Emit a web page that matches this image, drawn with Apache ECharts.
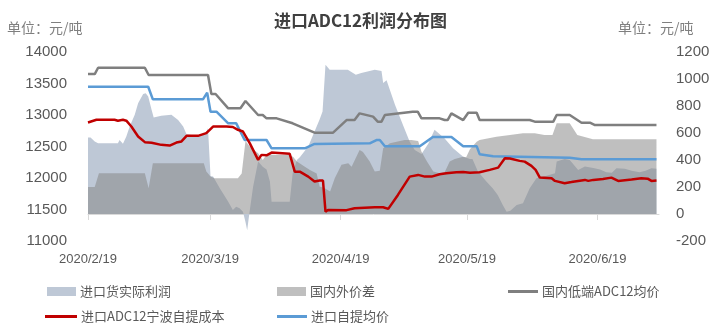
<!DOCTYPE html>
<html>
<head>
<meta charset="utf-8">
<script src="https://cdn.jsdelivr.net/npm/echarts@6/dist/echarts.min.js"></script>
<style>
html,body{margin:0;padding:0;background:#fff;}
#chart{width:721px;height:326px;}
</style>
</head>
<body>
<div id="chart"></div>
<script>
// x positions are day offsets from 2020/2/19
const tickDays = [0, 29, 60, 90, 121];
const tickLabels = ['2020/2/19', '2020/3/19', '2020/4/19', '2020/5/19', '2020/6/19'];

// 进口货实际利润 (right axis)
const profitDays = [0,0.6,1.6,2.4,7.1,7.5,8.3,9.1,9.9,11.1,11.9,13.1,13.7,14.3,15.1,15.6,17.4,19.8,21.4,22.6,23.4,24.6,27.3,28.1,28.5,29.1,29.7,31.3,33.3,34.4,35.2,36,36.8,37.4,37.8,38.3,39.2,40.4,41.5,42.4,43.2,43.6,47.9,48.6,49.6,50.3,52.3,55,55.7,56.4,57.4,61.7,63.6,64.9,68.1,69.7,70.1,70.9,72.9,74.8,76.4,77.6,79.2,80.8,82.3,82.7,84.7,86.7,89.1,90.7,91.3,92.6,94.6,96.1,97.3,98.5,99.4,100.3,101.8,103.3,104.9,106.5,108.5,110.9,111.3,113.2,114.4,116.4,118,120,121.6,123.1,124.4,125.5,127.5,129.1,131,132.4,133.8,135];
const profitVals = [566,566,537,525,525,549,520,574,648,735,821,888,895,870,772,715,727,735,697,648,591,586,586,611,635,280,277,190,91,30,54,42,17,-60,-120,0,200,388,350,330,240,91,91,300,400,420,500,700,760,1105,1068,1068,1031,1044,1068,1060,970,990,809,660,536,475,445,520,625,623,560,487,425,408,408,314,240,190,141,67,17,25,67,79,190,265,280,302,388,408,400,326,351,340,330,309,305,339,335,320,309,320,339,335];

// 国内外价差 (right axis)
const gapDays = [0,1.6,2.6,13.5,14.4,15.4,27.5,28.1,29.1,30,35.6,36.5,37.4,38.4,40.4,41.5,42.4,47.9,48.8,49.6,51.5,52.7,54.3,55,56.2,57.5,58.6,60.2,61.8,62.6,64.5,65.3,66.9,68.1,69.3,70.1,71.7,75.2,76.8,77.6,78.4,79.2,80.5,82,83.5,84.7,85.9,87.1,89.1,89.8,90.7,92.3,93,97,100.2,103.3,106.1,108.4,110.3,111.3,114.4,116.2,119.9,135];
const gapVals = [200,200,302,302,190,376,376,314,277,265,265,300,540,500,450,400,438,438,420,388,350,326,300,203,190,166,265,364,376,350,475,460,388,314,320,487,524,549,549,545,540,462,388,314,302,310,388,408,425,420,480,536,549,573,586,599,599,586,586,673,673,586,554,554];

// 国内低端ADC12均价 (left axis)
const domDays = [0,1.6,2.4,13.5,14.4,28.5,29.3,30.3,33.3,36.2,37.4,40.4,41.5,42.4,44.8,48.6,53.8,58.2,61.4,63.3,64.5,67.7,68.8,69.7,70.5,77.1,78.3,79.2,83.5,84.7,85.4,86.3,89.1,90.3,92.3,93,104.9,106.1,110.5,111.3,114.4,117.2,119.2,120.4,135];
const domVals = [13650,13650,13750,13750,13635,13635,13333,13333,13106,13106,13222,13000,13000,12947,12947,12868,12719,12719,12920,12920,13026,12974,12894,12894,13000,13053,13053,12947,12947,12920,12920,13026,12920,13037,13037,12920,12920,12894,12894,13000,13000,12878,12878,12841,12841];

// 进口ADC12宁波自提成本 (left axis)
const costDays = [0,2,6.3,7.1,8.3,9.1,10.3,11.9,13.5,15.1,17.4,19.4,21,22.2,23.4,26.1,28.1,29.7,32.9,34.4,35.6,36.8,38.4,40.4,41.2,42.4,43.6,47.9,49.1,50.3,52.3,53.8,55,55.8,56.4,57,61.4,63.3,68.1,70.1,71.3,73.6,76.4,78.4,80,81.6,83.5,85.1,87.5,89.1,90.7,93,95.4,97.4,99,100.2,102.5,103.7,105.3,106.3,107.3,110.1,110.9,113.2,114.8,116.4,118,118.8,120,122.3,124.3,125.9,129.1,131.4,132.9,133.8,135];
const costVals = [12881,12924,12924,12910,12924,12910,12817,12658,12569,12560,12526,12515,12563,12580,12669,12669,12712,12817,12817,12810,12765,12738,12553,12288,12367,12360,12404,12383,12101,12101,12022,11943,11960,11960,11466,11493,11490,11520,11536,11536,11510,11731,12022,12049,12022,12022,12060,12076,12092,12095,12085,12090,12129,12165,12315,12310,12272,12260,12192,12129,12006,11995,11954,11917,11935,11954,11970,11954,11970,11985,12006,11954,11975,11997,11990,11954,11960];

// 进口自提均价 (left axis)
const avgDays = [0,14.3,15.4,27.3,28.3,29.1,30.5,33.3,35.2,37.2,42.4,43.6,51.5,53.8,66.9,68.5,69.3,70.5,78.8,81.9,86.3,89.1,92.3,93,96.2,114.4,117.2,135];
const avgVals = [13449,13449,13249,13249,13354,13052,13052,12868,12868,12603,12603,12471,12471,12540,12550,12603,12603,12505,12505,12650,12650,12505,12505,12378,12345,12320,12297,12297];

const pairs = (xs, ys) => xs.map((x, i) => [x, ys[i]]);

const cjk = "'Noto Sans CJK SC', sans-serif";
const num = "'Liberation Sans', Arial, sans-serif";
const txt = '#595959';

const chart = echarts.init(document.getElementById('chart'), null, {renderer: 'canvas'});

function legendBox(name, left, top, w, h, color) {
  return {
    data: [{name: name, icon: 'rect', itemStyle: {color: color}}],
    left: left, top: top, itemWidth: w, itemHeight: h, itemGap: 0,
    padding: 0, selectedMode: false,
    textStyle: {color: txt, fontSize: 13, fontFamily: cjk, padding: [0, 0, 0, -1]}
  };
}

chart.setOption({
  animation: false,
  backgroundColor: '#ffffff',
  title: [
    {text: '进口ADC12利润分布图', left: 'center', top: 7,
     textStyle: {fontSize: 17, fontWeight: 'bold', color: '#404040', fontFamily: cjk}},
    {text: '单位：元/吨', left: 2, top: 16,
     textStyle: {fontSize: 14, fontWeight: 'normal', color: '#7f7f7f', fontFamily: cjk}},
    {text: '单位：元/吨', left: 613, top: 16,
     textStyle: {fontSize: 14, fontWeight: 'normal', color: '#7f7f7f', fontFamily: cjk}}
  ],
  legend: [
    legendBox('进口货实际利润', 47, 285, 29, 9, '#BEC8D6'),
    legendBox('国内外价差', 277, 285, 29, 9, '#BFBFBF'),
    legendBox('国内低端ADC12均价', 508, 285, 30, 3, '#7F7F7F'),
    legendBox('进口ADC12宁波自提成本', 45, 310, 32, 3, '#C00000'),
    legendBox('进口自提均价', 277, 310, 30, 3, '#5B9BD5')
  ],
  grid: {left: 88, right: 62, top: 52, bottom: 85, containLabel: false},
  xAxis: {
    type: 'value', min: 0, max: 135.6,
    axisLine: {show: true, lineStyle: {color: '#D9D9D9', width: 1}},
    axisTick: {show: true, customValues: tickDays, length: 6, lineStyle: {color: '#D9D9D9'}},
    axisLabel: {
      customValues: tickDays, margin: 12, color: txt, fontSize: 13, fontFamily: num,
      formatter: v => tickLabels[tickDays.indexOf(Math.round(v))] || ''
    },
    splitLine: {show: false}
  },
  yAxis: [
    {type: 'value', min: 11000, max: 14000, interval: 500, position: 'left',
     axisLine: {show: false}, axisTick: {show: false}, splitLine: {show: false},
     axisLabel: {color: txt, fontSize: 15, fontFamily: num, margin: 21, formatter: v => String(v)}},
    {type: 'value', min: -200, max: 1200, interval: 200, position: 'right',
     axisLine: {show: false}, axisTick: {show: false}, splitLine: {show: false},
     axisLabel: {color: txt, fontSize: 15, fontFamily: num, margin: 17, formatter: v => String(v)}}
  ],
  series: [
    {name: '进口货实际利润', type: 'line', yAxisIndex: 1, data: pairs(profitDays, profitVals),
     symbol: 'none', color: '#BEC8D6', lineStyle: {width: 0, color: '#BEC8D6'},
     areaStyle: {color: 'rgb(190,200,214)', opacity: 1}, z: 1, silent: true},
    {name: '国内外价差', type: 'line', yAxisIndex: 1, data: pairs(gapDays, gapVals),
     symbol: 'none', color: '#BFBFBF', lineStyle: {width: 0, color: '#BFBFBF'},
     areaStyle: {color: 'rgb(132,132,132)', opacity: 0.52}, z: 2, silent: true},
    {name: '国内低端ADC12均价', type: 'line', yAxisIndex: 0, data: pairs(domDays, domVals),
     symbol: 'none', color: '#7F7F7F', lineStyle: {width: 2.5, color: '#7F7F7F'}, z: 3},
    {name: '进口自提均价', type: 'line', yAxisIndex: 0, data: pairs(avgDays, avgVals),
     symbol: 'none', color: '#5B9BD5', lineStyle: {width: 2.5, color: '#5B9BD5'}, z: 4},
    {name: '进口ADC12宁波自提成本', type: 'line', yAxisIndex: 0, data: pairs(costDays, costVals),
     symbol: 'none', color: '#C00000', lineStyle: {width: 2.5, color: '#C00000'}, z: 5}
  ]
});
</script>
</body>
</html>
